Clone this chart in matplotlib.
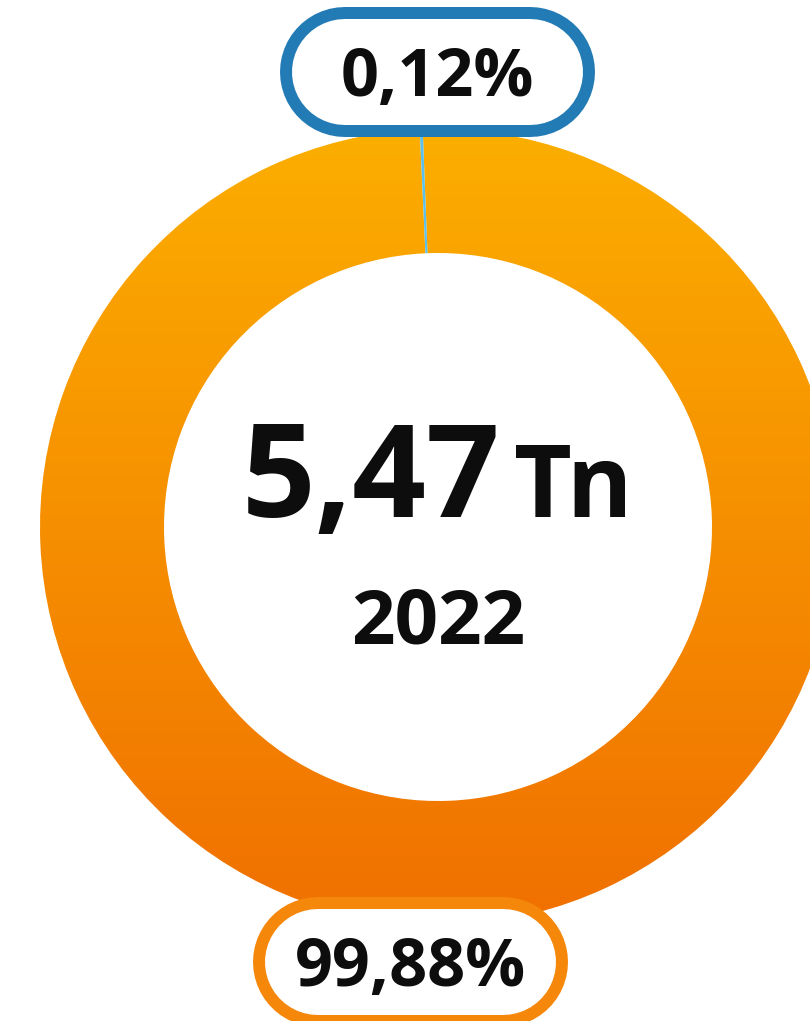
import numpy as np
import matplotlib
matplotlib.use('Agg')
import matplotlib.pyplot as plt
from matplotlib.colors import LinearSegmentedColormap

# Dados do gráfico
participacao = [0.12, 99.88]
rotulos = ['0,12%', '99,88%']
cores_borda = ['#237BB5', '#F5870A']
total = '5,47'
unidade = 'Tn'
ano = '2022'

plt.rcParams['font.family'] = ['Open Sans', 'DejaVu Sans']

W, H = 810, 1021
fig = plt.figure(figsize=(W / 100, H / 100), dpi=100)
ax = fig.add_axes([0, 0, 1, 1])

# Geometria em pixels (y para cima)
cx, cy = 438, H - 527
r_ext, r_int = 398, 274

wedges, _ = ax.pie(participacao, center=(cx, cy), radius=r_ext, startangle=92.2,
                   colors=['#5BC0EB', 'none'],
                   wedgeprops=dict(width=r_ext - r_int, linewidth=0))

# Degradê laranja vertical na fatia principal
cmap = LinearSegmentedColormap.from_list('laranja', ['#FCAE00', '#F07000'])
grad = np.linspace(0, 1, 256).reshape(-1, 1)
im = ax.imshow(grad, cmap=cmap, aspect='auto', origin='upper',
               extent=(cx - r_ext, cx + r_ext, cy - r_ext, cy + r_ext), zorder=1)
im.set_clip_path(wedges[1])
wedges[0].set_zorder(2)

# Caixas dos rótulos (formato pílula, feitas com linhas de ponta arredondada)
caixas = [(437.5, H - 72), (410.5, H - 962)]
larg, alt, borda = 303, 118, 12
px2pt = 0.72
for (x, y), txt, cor in zip(caixas, rotulos, cores_borda):
    xs = [x - larg / 2 + alt / 2, x + larg / 2 - alt / 2]
    ax.plot(xs, [y, y], color=cor, lw=(alt + borda) * px2pt,
            solid_capstyle='round', zorder=3)
    ax.plot(xs, [y, y], color='white', lw=(alt - borda) * px2pt,
            solid_capstyle='round', zorder=3.5)
    ax.text(x, y - 24, txt, ha='center', va='baseline', fontsize=48,
            fontweight='bold', color='#0D0D0D', zorder=4)

# Texto central
ax.text(371, H - 517, total, ha='center', va='baseline', fontsize=93,
        fontweight='bold', color='#0D0D0D')
ax.text(573, H - 517, unidade, ha='center', va='baseline', fontsize=72,
        fontweight='bold', color='#0D0D0D')
ax.text(438, H - 643, ano, ha='center', va='baseline', fontsize=55,
        fontweight='bold', color='#0D0D0D')

ax.set_xlim(0, W)
ax.set_ylim(0, H)
ax.set_aspect('auto')
ax.axis('off')

fig.savefig('out.png', dpi=100, facecolor='white')
